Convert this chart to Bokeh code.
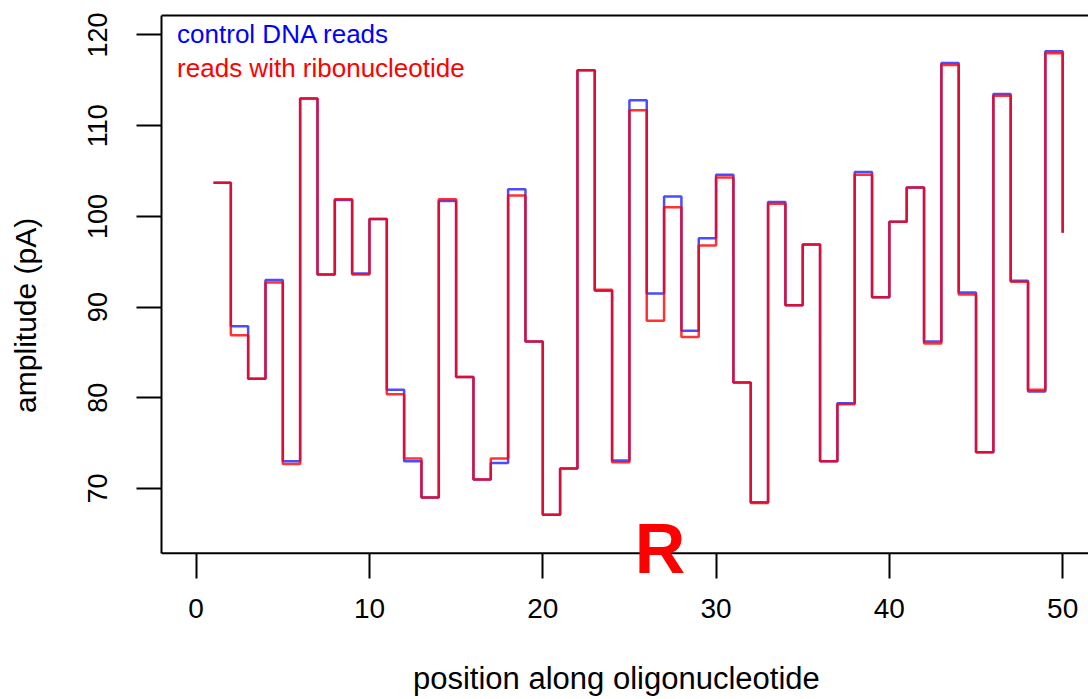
import math
from bokeh.plotting import figure
from bokeh.models import Range1d, FixedTicker, Span, Label, LinearAxis
from bokeh.embed import file_html
from bokeh.resources import INLINE

# ---- data ----
positions = [1, 2, 3, 4, 5, 6, 7, 8, 9, 10,
             11, 12, 13, 14, 15, 16, 17, 18, 19, 20,
             21, 22, 23, 24, 25, 26, 27, 28, 29, 30,
             31, 32, 33, 34, 35, 36, 37, 38, 39, 40,
             41, 42, 43, 44, 45, 46, 47, 48, 49, 50]

control_dna = [103.7, 87.9, 82.1, 93.0, 73.0, 113.0, 93.6, 101.8, 93.7, 99.7,
               80.9, 73.0, 69.0, 101.7, 82.3, 71.0, 72.8, 103.0, 86.2, 67.1,
               72.2, 116.1, 91.8, 73.1, 112.8, 91.5, 102.2, 87.4, 97.6, 104.6,
               81.7, 68.5, 101.6, 90.2, 96.9, 73.0, 79.4, 104.9, 91.1, 99.4,
               103.2, 86.2, 116.9, 91.6, 74.0, 113.5, 92.9, 80.7, 118.2, 98.2]

ribonucleotide = [103.7, 86.9, 82.1, 92.7, 72.7, 113.0, 93.6, 101.9, 93.6, 99.7,
                  80.4, 73.3, 69.0, 101.9, 82.3, 71.0, 73.3, 102.3, 86.2, 67.1,
                  72.2, 116.1, 91.9, 72.9, 111.7, 88.5, 101.0, 86.7, 96.8, 104.3,
                  81.7, 68.4, 101.4, 90.2, 96.9, 73.0, 79.3, 104.6, 91.1, 99.4,
                  103.2, 86.0, 116.7, 91.4, 74.0, 113.3, 92.8, 80.9, 118.0, 98.2]

x_ticks = [0, 10, 20, 30, 40, 50]
y_ticks = [70, 80, 90, 100, 110, 120]

series_names = ["control DNA reads", "reads with ribonucleotide"]
series_colors = ["#0000ff", "#ff0000"]
x_title = "position along oligonucleotide"
y_title = "amplitude (pA)"
marker_text = "R"
marker_pos = 26.77

FONT = "Liberation Sans"
NBSP = "\u00a0"
# plotting range (frame) and the drawn box
X0, X1 = -2.0, 51.49
Y0, Y1 = 60.08, 122.70
BOX_BOTTOM, BOX_TOP = 62.87, 122.15

p = figure(width=1088, height=699, output_backend="svg", toolbar_location=None,
           x_range=Range1d(X0, X1), y_range=Range1d(Y0, Y1),
           min_border_left=161, min_border_right=0, min_border_top=10,
           min_border_bottom=121)
p.outline_line_color = None
p.background_fill_color = "white"
p.border_fill_color = "white"
p.xgrid.visible = False
p.ygrid.visible = False

for ax, ticks in ((p.xaxis, x_ticks), (p.yaxis, y_ticks)):
    ax.ticker = FixedTicker(ticks=ticks)
    ax.axis_line_color = "black"
    ax.axis_line_width = 2
    ax.major_tick_line_color = "black"
    ax.major_tick_line_width = 2
    ax.minor_tick_out = 0
    ax.minor_tick_in = 0
    ax.major_label_text_font = FONT
    ax.major_label_text_color = "black"

# x axis: sits at the bottom of the frame, ticks reach up to the box
xa = p.xaxis[0]
xa.axis_line_color = None
xa.major_tick_in = 25
xa.major_tick_out = 0
xa.major_label_standoff = 20
xa.major_label_text_font_size = "28px"
xa.axis_label = x_title + NBSP * 2
xa.axis_label_text_font = FONT
xa.axis_label_text_font_size = "31px"
xa.axis_label_text_font_style = "normal"
xa.axis_label_text_color = "black"
xa.axis_label_standoff = 40

# y axis: its line is the left side of the box
ya = p.yaxis[0]
ya.major_tick_in = 0
ya.major_tick_out = 25
ya.major_label_standoff = 29
ya.major_label_text_font_size = "27px"
ya.major_label_orientation = "vertical"
ya.bounds = (BOX_BOTTOM, BOX_TOP)

# y title on an outer, otherwise empty axis
ty = LinearAxis(axis_label=y_title + NBSP * 5,
                ticker=FixedTicker(ticks=[]), axis_line_color=None,
                major_tick_line_color=None, minor_tick_line_color=None,
                major_tick_out=0, major_tick_in=0, minor_tick_out=0, minor_tick_in=0,
                major_label_standoff=0, major_label_text_font_size="0px",
                axis_label_standoff=44, axis_label_text_font=FONT,
                axis_label_text_font_size="30px", axis_label_text_font_style="normal",
                axis_label_text_color="black")
p.add_layout(ty, "left")

# top and bottom edges of the box
p.add_layout(Span(location=BOX_TOP, dimension="width", line_color="black", line_width=2))
p.add_layout(Span(location=BOX_BOTTOM, dimension="width", line_color="black", line_width=2))

# step lines
p.step(positions, control_dna, mode="after", line_color=series_colors[0],
       line_alpha=0.7, line_width=2.5)
p.step(positions, ribonucleotide, mode="after", line_color=series_colors[1],
       line_alpha=0.8, line_width=2.5)

# legend texts
p.add_layout(Label(x=-1.1, y=120.07, text=series_names[0], text_color=series_colors[0],
                   text_font=FONT, text_font_size="26px", text_align="left",
                   text_baseline="middle"))
p.add_layout(Label(x=-1.1, y=116.37, text=series_names[1], text_color=series_colors[1],
                   text_font=FONT, text_font_size="26px", text_align="left",
                   text_baseline="middle"))

# big R marker
p.add_layout(Label(x=marker_pos, y=63.33, text=marker_text, text_font=FONT,
                   text_font_size="70px", text_font_style="bold",
                   text_align="center", text_baseline="middle",
                   text_color="#ff0000", level="overlay"))

open("out.html", "w").write(file_html(p, INLINE))
